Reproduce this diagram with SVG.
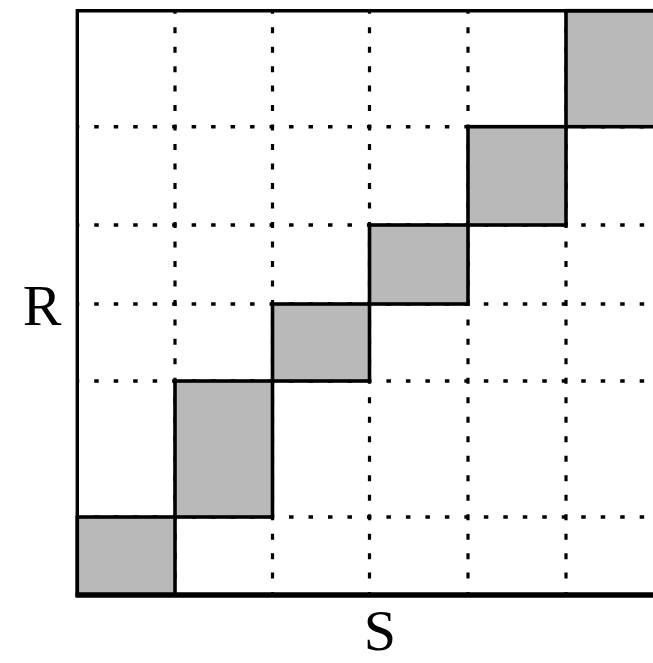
<svg xmlns="http://www.w3.org/2000/svg" width="653" height="663" viewBox="0 0 653 663">
  <style>
    .grid-h { stroke: #000; stroke-width: 3.4; fill: none; stroke-dasharray: 4.5 14.98; stroke-dashoffset: 2.25; }
    .grid-v { stroke: #000; stroke-width: 3.2; fill: none; stroke-dasharray: 6 13.48; stroke-dashoffset: 3; }
    .block { fill: #b9b9b9; stroke: #000; stroke-width: 3.6; }
    .frame { stroke: #000; fill: none; }
    .label { font-family: "Liberation Serif", "Times New Roman", serif; font-size: 58px; fill: #000; text-anchor: middle; }
  </style>

  <rect x="0" y="0" width="653" height="663" fill="#fff"/>

  <!-- dotted grid lines -->
  <g id="connectors">
    <line class="grid-h" x1="77" y1="126.7" x2="653" y2="126.7"/>
    <line class="grid-h" x1="77" y1="225" x2="653" y2="225"/>
    <line class="grid-h" x1="77" y1="304" x2="653" y2="304"/>
    <line class="grid-h" x1="77" y1="381" x2="653" y2="381"/>
    <line class="grid-h" x1="77" y1="517" x2="653" y2="517"/>
    <line class="grid-v" x1="175" y1="10.7" x2="175" y2="595"/>
    <line class="grid-v" x1="272.5" y1="10.7" x2="272.5" y2="595"/>
    <line class="grid-v" x1="369.5" y1="10.7" x2="369.5" y2="595"/>
    <line class="grid-v" x1="468" y1="10.7" x2="468" y2="595"/>
    <line class="grid-v" x1="566" y1="10.7" x2="566" y2="595"/>
  </g>

  <!-- shaded cells along the diagonal -->
  <g id="block-0"><rect class="block" x="77.3" y="517" width="97.7" height="78"/></g>
  <g id="block-1"><rect class="block" x="175" y="381" width="97.5" height="136"/></g>
  <g id="block-2"><rect class="block" x="272.5" y="304" width="97" height="77"/></g>
  <g id="block-3"><rect class="block" x="369.5" y="225" width="98.5" height="79"/></g>
  <g id="block-4"><rect class="block" x="468" y="126.7" width="98" height="98.3"/></g>
  <g id="block-5"><rect class="block" x="566" y="10.7" width="90" height="116"/></g>

  <!-- outer frame -->
  <g id="frame">
    <line class="frame" x1="77.3" y1="10.7" x2="653" y2="10.7" stroke-width="3.4"/>
    <line class="frame" x1="77.3" y1="9" x2="77.3" y2="597" stroke-width="3.4"/>
    <line class="frame" x1="75.6" y1="595" x2="653" y2="595" stroke-width="5.6"/>
  </g>

  <!-- axis labels -->
  <g id="label-R"><text class="label" x="42" y="325">R</text></g>
  <g id="label-S"><text class="label" x="380" y="650">S</text></g>
</svg>
